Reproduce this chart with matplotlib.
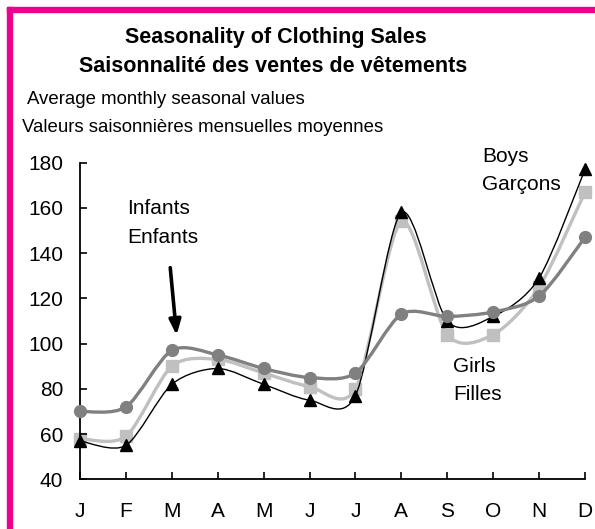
import numpy as np
import matplotlib
matplotlib.use("Agg")
import matplotlib.pyplot as plt
from matplotlib.path import Path
from matplotlib.patches import PathPatch, Rectangle

plt.rcParams['font.family'] = ['Liberation Sans', 'DejaVu Sans']

# data
months = ['J', 'F', 'M', 'A', 'M', 'J', 'J', 'A', 'S', 'O', 'N', 'D']
boys = [57, 55, 82, 89, 82, 75, 77, 158, 110, 112, 129, 177]
girls = [58, 59, 90, 93, 87, 81, 80, 154, 104, 104, 125, 167]
infants = [70, 72, 97, 95, 89, 85, 87, 113, 112, 114, 121, 147]
yticks = [40, 60, 80, 100, 120, 140, 160, 180]


def smooth_path(x, y, k=0.14):
    # excel-like smoothed line as cubic bezier segments
    p = np.column_stack([x, y]).astype(float)
    n = len(p)
    verts = [p[0]]
    codes = [Path.MOVETO]
    for i in range(n - 1):
        p0 = p[i - 1] if i > 0 else p[i]
        p3 = p[i + 2] if i + 2 < n else p[i + 1]
        c1 = p[i] + (p[i + 1] - p0) * k
        c2 = p[i + 1] - (p3 - p[i]) * k
        verts += [c1, c2, p[i + 1]]
        codes += [Path.CURVE4] * 3
    return Path(verts, codes)


W, H = 595, 529
fig = plt.figure(figsize=(W / 100, H / 100), dpi=100)
ax = fig.add_axes([80 / W, 1 - 479.3 / H, 505 / W, 316.6 / H])

x = np.arange(len(months))
series = [
    (girls, '#C0C0C0', 2.4, 's', 8, 1),
    (boys, 'black', 1.0, '^', 9, 2),
    (infants, '#808080', 2.4, 'o', 8.5, 3),
]
for vals, col, lw, mk, ms, z in series:
    ax.add_patch(PathPatch(smooth_path(x, vals), fill=False, edgecolor=col,
                           lw=lw, zorder=z, clip_on=False))
    ax.plot(x, vals, linestyle='none', marker=mk, ms=ms, color=col,
            zorder=z, clip_on=False)

ax.set_xlim(0, 11)
ax.set_ylim(40, 180)
ax.set_xticks(x)
ax.set_xticklabels(months)
ax.set_yticks(yticks)
ax.tick_params(direction='in', length=5, width=1.2, labelsize=15, colors='black')
ax.tick_params(axis='y', pad=12)
ax.tick_params(axis='x', pad=16)
for s in ['top', 'right']:
    ax.spines[s].set_visible(False)
for s in ['left', 'bottom']:
    ax.spines[s].set_linewidth(1.3)

# arrow pointing at the infants curve
ax.annotate('', xy=(2.11, 102.5), xytext=(1.96, 134.8),
            arrowprops=dict(arrowstyle='-|>,head_length=0.9,head_width=0.35',
                            lw=2.6, color='black'))


def ftext(px, py, s, **kw):
    fig.text(px / W, 1 - py / H, s, **kw)


ftext(127, 208, 'Infants', fontsize=15, va='center')
ftext(127, 237, 'Enfants', fontsize=15, va='center')
ftext(482, 157, 'Boys', fontsize=15, va='center')
ftext(482, 185, 'Garçons', fontsize=15, va='center')
ftext(453, 367, 'Girls', fontsize=15, va='center')
ftext(453, 395, 'Filles', fontsize=15, va='center')

ftext(276, 37, 'Seasonality of Clothing Sales', fontsize=15.5, fontweight='bold',
      ha='center', va='center')
ftext(273, 67, 'Saisonnalité des ventes de vêtements', fontsize=15.5,
      fontweight='bold', ha='center', va='center')
ftext(27, 100, 'Average monthly seasonal values', fontsize=13.4, va='center')
ftext(22, 127, 'Valeurs saisonnières mensuelles moyennes', fontsize=13.4,
      va='center')

# magenta frame (top and left edges)
mag = '#EC008C'
fig.patches.append(Rectangle((7 / W, 0), 5 / W, 1 - 7 / H, color=mag,
                             transform=fig.transFigure))
fig.patches.append(Rectangle((7 / W, 1 - 12 / H), 1 - 7 / W, 5 / H, color=mag,
                             transform=fig.transFigure))

fig.savefig('out.png', dpi=100)
